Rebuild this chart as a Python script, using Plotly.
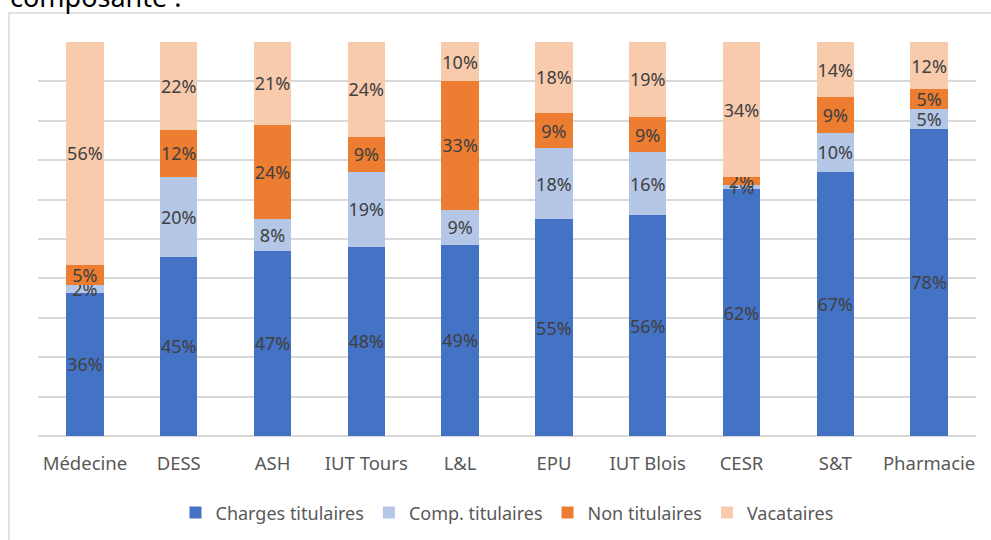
import plotly.graph_objects as go

categories = ["Médecine", "DESS", "ASH", "IUT Tours", "L&L", "EPU", "IUT Blois", "CESR", "S&T", "Pharmacie"]
charges_titulaires = [36, 45, 47, 48, 49, 55, 56, 62, 67, 78]
comp_titulaires = [2, 20, 8, 19, 9, 18, 16, 1, 10, 5]
non_titulaires = [5, 12, 24, 9, 33, 9, 9, 2, 9, 5]
vacataires = [56, 22, 21, 24, 10, 18, 19, 34, 14, 12]

series = [
    ("Charges titulaires", charges_titulaires, "#4472C4"),
    ("Comp. titulaires", comp_titulaires, "#B4C7E7"),
    ("Non titulaires", non_titulaires, "#ED7D31"),
    ("Vacataires", vacataires, "#F8CBAD"),
]

FONT = "Noto Sans"
fig = go.Figure()
for name, vals, color in series:
    fig.add_trace(go.Bar(
        name=name, x=categories, y=vals,
        marker=dict(color=color, line=dict(width=0)),
        text=[f"{v}%" for v in vals],
        textposition="inside", insidetextanchor="middle", textangle=0,
        constraintext="none",
        textfont=dict(family=FONT, size=18, color="#404040"),
        hoverinfo="skip",
    ))

fig.update_layout(
    barmode="stack", barnorm="percent", bargap=0.6,
    width=991, height=540,
    margin=dict(l=38, r=15, t=42, b=104, autoexpand=False),
    plot_bgcolor="white", paper_bgcolor="white",
    font=dict(family=FONT, size=18, color="#595959"),
    uniformtext=dict(minsize=18, mode="show"),
    showlegend=True,
    legend=dict(orientation="h", x=0.5, xanchor="center", y=-0.195, yanchor="middle",
                font=dict(family=FONT, size=18, color="#595959"), traceorder="normal",
                itemwidth=30),
    xaxis=dict(showgrid=False, showline=False, ticks="", ticklabelstandoff=14,
               automargin=False, tickfont=dict(size=18.5, color="#595959")),
    yaxis=dict(range=[0, 100], dtick=10, showticklabels=False, showgrid=True,
               automargin=False,
               gridcolor="#D9D9D9", gridwidth=2, zeroline=True, zerolinecolor="#D9D9D9",
               zerolinewidth=2, showline=False),
)

fig.add_shape(type="rect", xref="paper", yref="paper",
              x0=(9 - 38) / 938, x1=1.2, y0=-0.5, y1=1 + (42 - 13) / 394,
              line=dict(color="#D9D9D9", width=1.5), fillcolor="rgba(0,0,0,0)", layer="below")

fig.add_annotation(text="composante :", xref="paper", yref="paper",
                   x=(8 - 38) / 938, xanchor="left",
                   y=1 + (42 - 17) / 394, yanchor="bottom", showarrow=False,
                   font=dict(family=FONT, size=27, color="#000000"))

fig.write_html("out.html")
